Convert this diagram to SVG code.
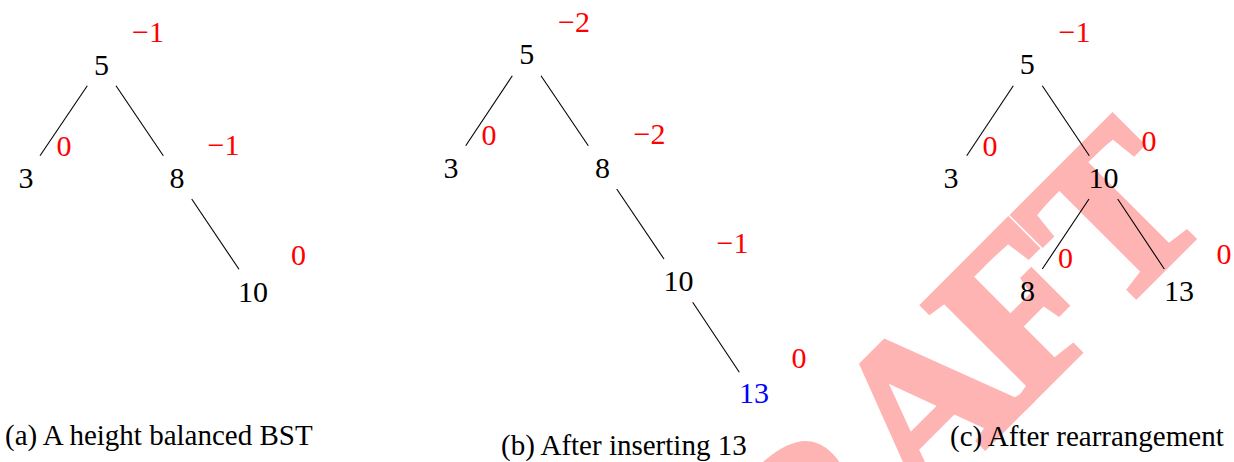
<svg xmlns="http://www.w3.org/2000/svg" width="1234" height="462" viewBox="0 0 1234 462">
<style>
.n{font-family:"Liberation Serif","DejaVu Serif",serif;font-size:30px;fill:#000;text-anchor:middle}
.b{font-family:"Liberation Serif","DejaVu Serif",serif;font-size:30px;fill:#ff0000;text-anchor:middle}
.blue{fill:#0000ff}
.cap{font-family:"Liberation Serif","DejaVu Serif",serif;font-size:29px;fill:#000}
.wm{font-family:"Liberation Serif","DejaVu Serif",serif;font-size:218px;font-weight:bold;fill:#ffb4b4;stroke:#ffb4b4;stroke-width:7;stroke-linejoin:miter}
.e line{stroke:#000;stroke-width:1.1}
</style>
<rect width="1234" height="462" fill="#fff"/>
<g id="watermark"><text class="wm" transform="rotate(-45)" x="-29 130 289 434 562" y="1012">DRAFT</text></g>

<g class="e" id="connectors">
<line x1="87.3" y1="85.7" x2="40" y2="155.7"/>
<line x1="116" y1="85.7" x2="163.3" y2="155.7"/>
<line x1="191.7" y1="199" x2="239" y2="269.3"/>
<line x1="512.3" y1="75.7" x2="465.7" y2="145.7"/>
<line x1="541" y1="75.7" x2="588.3" y2="145.7"/>
<line x1="616.7" y1="189" x2="664" y2="259"/>
<line x1="692.7" y1="302.3" x2="739.3" y2="372.3"/>
<line x1="1013.3" y1="85.7" x2="966.7" y2="155.7"/>
<line x1="1042.3" y1="85.7" x2="1089.3" y2="155.7"/>
<line x1="1089" y1="199" x2="1042.3" y2="269"/>
<line x1="1117.7" y1="199" x2="1164.3" y2="269"/>
</g>

<g id="treeA">
<g id="a5"><text class="n" x="101.5" y="75">5</text><text class="b" x="148" y="42">−1</text></g>
<g id="a3"><text class="n" x="26" y="188">3</text><text class="b" x="64" y="156">0</text></g>
<g id="a8"><text class="n" x="177" y="188">8</text><text class="b" x="223.5" y="155">−1</text></g>
<g id="a10"><text class="n" x="253" y="302">10</text><text class="b" x="298.5" y="265">0</text></g>
</g>

<g id="treeB">
<g id="b5"><text class="n" x="526.7" y="64">5</text><text class="b" x="574" y="32">−2</text></g>
<g id="b3"><text class="n" x="451" y="178">3</text><text class="b" x="489" y="145">0</text></g>
<g id="b8"><text class="n" x="602.5" y="178">8</text><text class="b" x="649.5" y="144">−2</text></g>
<g id="b10"><text class="n" x="678.5" y="291">10</text><text class="b" x="732.5" y="253">−1</text></g>
<g id="b13"><text class="n blue" x="754" y="403">13</text><text class="b" x="799" y="368">0</text></g>
</g>

<g id="treeC">
<g id="c5"><text class="n" x="1027.3" y="74">5</text><text class="b" x="1074.5" y="42">−1</text></g>
<g id="c3"><text class="n" x="951" y="188">3</text><text class="b" x="990" y="155.7">0</text></g>
<g id="c10"><text class="n" x="1103.5" y="188">10</text><text class="b" x="1149" y="151">0</text></g>
<g id="c8"><text class="n" x="1027.5" y="301">8</text><text class="b" x="1065.5" y="268">0</text></g>
<g id="c13"><text class="n" x="1179" y="301">13</text><text class="b" x="1224" y="264">0</text></g>
</g>

<g id="captions">
<text class="cap" x="5" y="445">(a) A height balanced BST</text>
<text class="cap" x="501" y="455">(b) After inserting 13</text>
<text class="cap" x="950" y="446">(c) After rearrangement</text>
</g>
</svg>
